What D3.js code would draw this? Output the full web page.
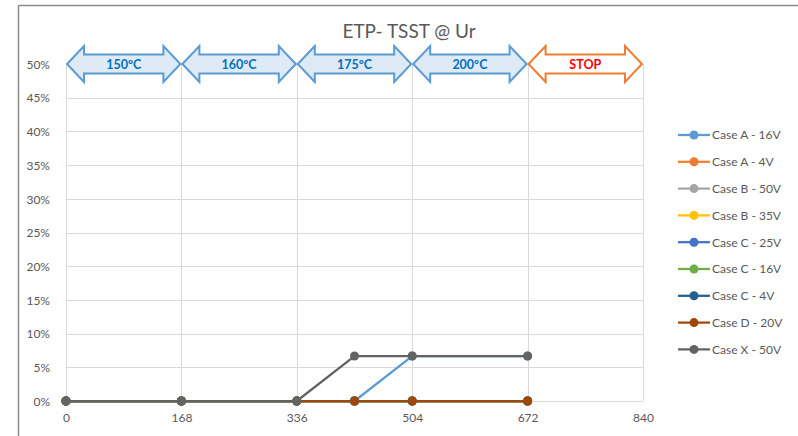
<!DOCTYPE html>
<html><head><meta charset="utf-8">
<script src="https://cdn.jsdelivr.net/npm/d3@7"></script>
<style>
html,body{margin:0;padding:0;background:#fff;}
svg{display:block;font-family:Lato,"Open Sans",sans-serif;}
</style></head>
<body><svg id="c" width="798" height="436"></svg>
<script>
const xValues = [0, 168, 336, 420, 504, 672];
const xTicks = [0, 168, 336, 504, 672, 840];
const yTicks = [0, 0.05, 0.10, 0.15, 0.20, 0.25, 0.30, 0.35, 0.40, 0.45, 0.50];
const seriesNames = ["Case A - 16V","Case A - 4V","Case B - 50V","Case B - 35V","Case C - 25V","Case C - 16V","Case C - 4V","Case D - 20V","Case X - 50V"];
const seriesColors = ["#5B9BD5","#ED7D31","#A5A5A5","#FFC000","#4472C4","#70AD47","#255E91","#9E480E","#636363"];
const seriesValues = [
  [0, 0, 0, 0, 0.0667, 0.0667],
  [0, 0, 0, 0, 0, 0],
  [0, 0, 0, 0, 0, 0],
  [0, 0, 0, 0, 0, 0],
  [0, 0, 0, 0, 0, 0],
  [0, 0, 0, 0, 0, 0],
  [0, 0, 0, 0, 0, 0],
  [0, 0, 0, 0, 0, 0],
  [0, 0, 0, 0.0667, 0.0667, 0.0667]
];
const phaseLabels = ["150ºC","160ºC","175ºC","200ºC","STOP"];
const phaseStarts = [0, 168, 336, 504, 672];
const phaseEnds = [168, 336, 504, 672, 840];
const title = "ETP- TSST @ Ur";

const svg = d3.select("#c");
const x = d3.scaleLinear().domain([0, 840]).range([66, 643]);
const y = d3.scaleLinear().domain([0, 0.5]).range([401, 64]);
const txt = "#595959";

// chart frame (cropped)
svg.append("line").attr("x1",18.5).attr("x2",798).attr("y1",5.5).attr("y2",5.5).attr("stroke","#8c8c8c").attr("stroke-width",1.5);
svg.append("line").attr("x1",18.5).attr("x2",18.5).attr("y1",5.5).attr("y2",436).attr("stroke","#8c8c8c").attr("stroke-width",1.5);

// title
svg.append("text").attr("x",409).attr("y",38).attr("text-anchor","middle").attr("fill",txt).attr("font-size",19).text(title);

// gridlines
svg.append("g").selectAll("line").data(yTicks).join("line")
  .attr("x1",x(0)).attr("x2",x(840)).attr("y1",d=>Math.round(y(d))+0.5).attr("y2",d=>Math.round(y(d))+0.5)
  .attr("stroke","#D9D9D9").attr("stroke-width",1);
svg.append("g").selectAll("line").data(xTicks).join("line")
  .attr("x1",d=>Math.round(x(d))+0.5).attr("x2",d=>Math.round(x(d))+0.5).attr("y1",y(0.5)).attr("y2",y(0))
  .attr("stroke","#D9D9D9").attr("stroke-width",1);

// axes labels via d3 axes
const yAxis = svg.append("g").attr("transform",`translate(${x(0)-13},0)`)
  .call(d3.axisLeft(y).tickValues(yTicks).tickFormat(d3.format(".0%")).tickSize(0));
yAxis.select(".domain").remove();
yAxis.selectAll("text").attr("fill",txt).attr("font-size",12).attr("font-family","Lato,'Open Sans',sans-serif").attr("dy","0.35em");

const xAxis = svg.append("g").attr("transform",`translate(0,${y(0)+9})`)
  .call(d3.axisBottom(x).tickValues(xTicks).tickFormat(d3.format("d")).tickSize(0));
xAxis.select(".domain").remove();
xAxis.selectAll("text").attr("fill",txt).attr("font-size",12).attr("font-family","Lato,'Open Sans',sans-serif");

// phase arrows
function arrowPath(x0, x1, cy){
  const hl = 17, ho = 18, so = 9.5;
  return `M${x0},${cy} L${x0+hl},${cy-ho} L${x0+hl},${cy-so} L${x1-hl},${cy-so} L${x1-hl},${cy-ho} L${x1},${cy} L${x1-hl},${cy+ho} L${x1-hl},${cy+so} L${x0+hl},${cy+so} L${x0+hl},${cy+ho} Z`;
}
const ag = svg.append("g");
phaseLabels.forEach((lab,i)=>{
  const stop = lab === "STOP";
  const x0 = x(phaseStarts[i])+1, x1 = x(phaseEnds[i])-1, cy = y(0.5);
  ag.append("path").attr("d",arrowPath(x0,x1,cy))
    .attr("fill", stop ? "#FFFFFF" : "#DEEBF7")
    .attr("stroke", stop ? "#ED7D31" : "#5B9BD5").attr("stroke-width",2).attr("stroke-linejoin","miter");
  ag.append("text").attr("x",(x0+x1)/2).attr("y",cy+4.5).attr("text-anchor","middle")
    .attr("font-size",12.5).attr("font-weight","bold")
    .attr("fill", stop ? "#FF0000" : "#0070C0").text(lab);
});

// series
const line = d3.line().x((d,i)=>x(xValues[i])).y(d=>y(d));
const sg = svg.append("g");
seriesValues.forEach((vals,si)=>{
  sg.append("path").attr("d",line(vals)).attr("fill","none").attr("stroke",seriesColors[si]).attr("stroke-width",2.25);
  sg.append("g").selectAll("circle").data(vals).join("circle")
    .attr("cx",(d,i)=>x(xValues[i])).attr("cy",d=>y(d)).attr("r",4.5).attr("fill",seriesColors[si]);
});

// legend
const lg = svg.append("g");
seriesNames.forEach((n,i)=>{
  const cy = 135 + i*26.8;
  lg.append("line").attr("x1",678).attr("x2",710).attr("y1",cy).attr("y2",cy).attr("stroke",seriesColors[i]).attr("stroke-width",2.25);
  lg.append("circle").attr("cx",694).attr("cy",cy).attr("r",4.5).attr("fill",seriesColors[i]);
  lg.append("text").attr("x",712).attr("y",cy+4.3).attr("fill",txt).attr("font-size",12).text(n);
});
</script></body></html>
